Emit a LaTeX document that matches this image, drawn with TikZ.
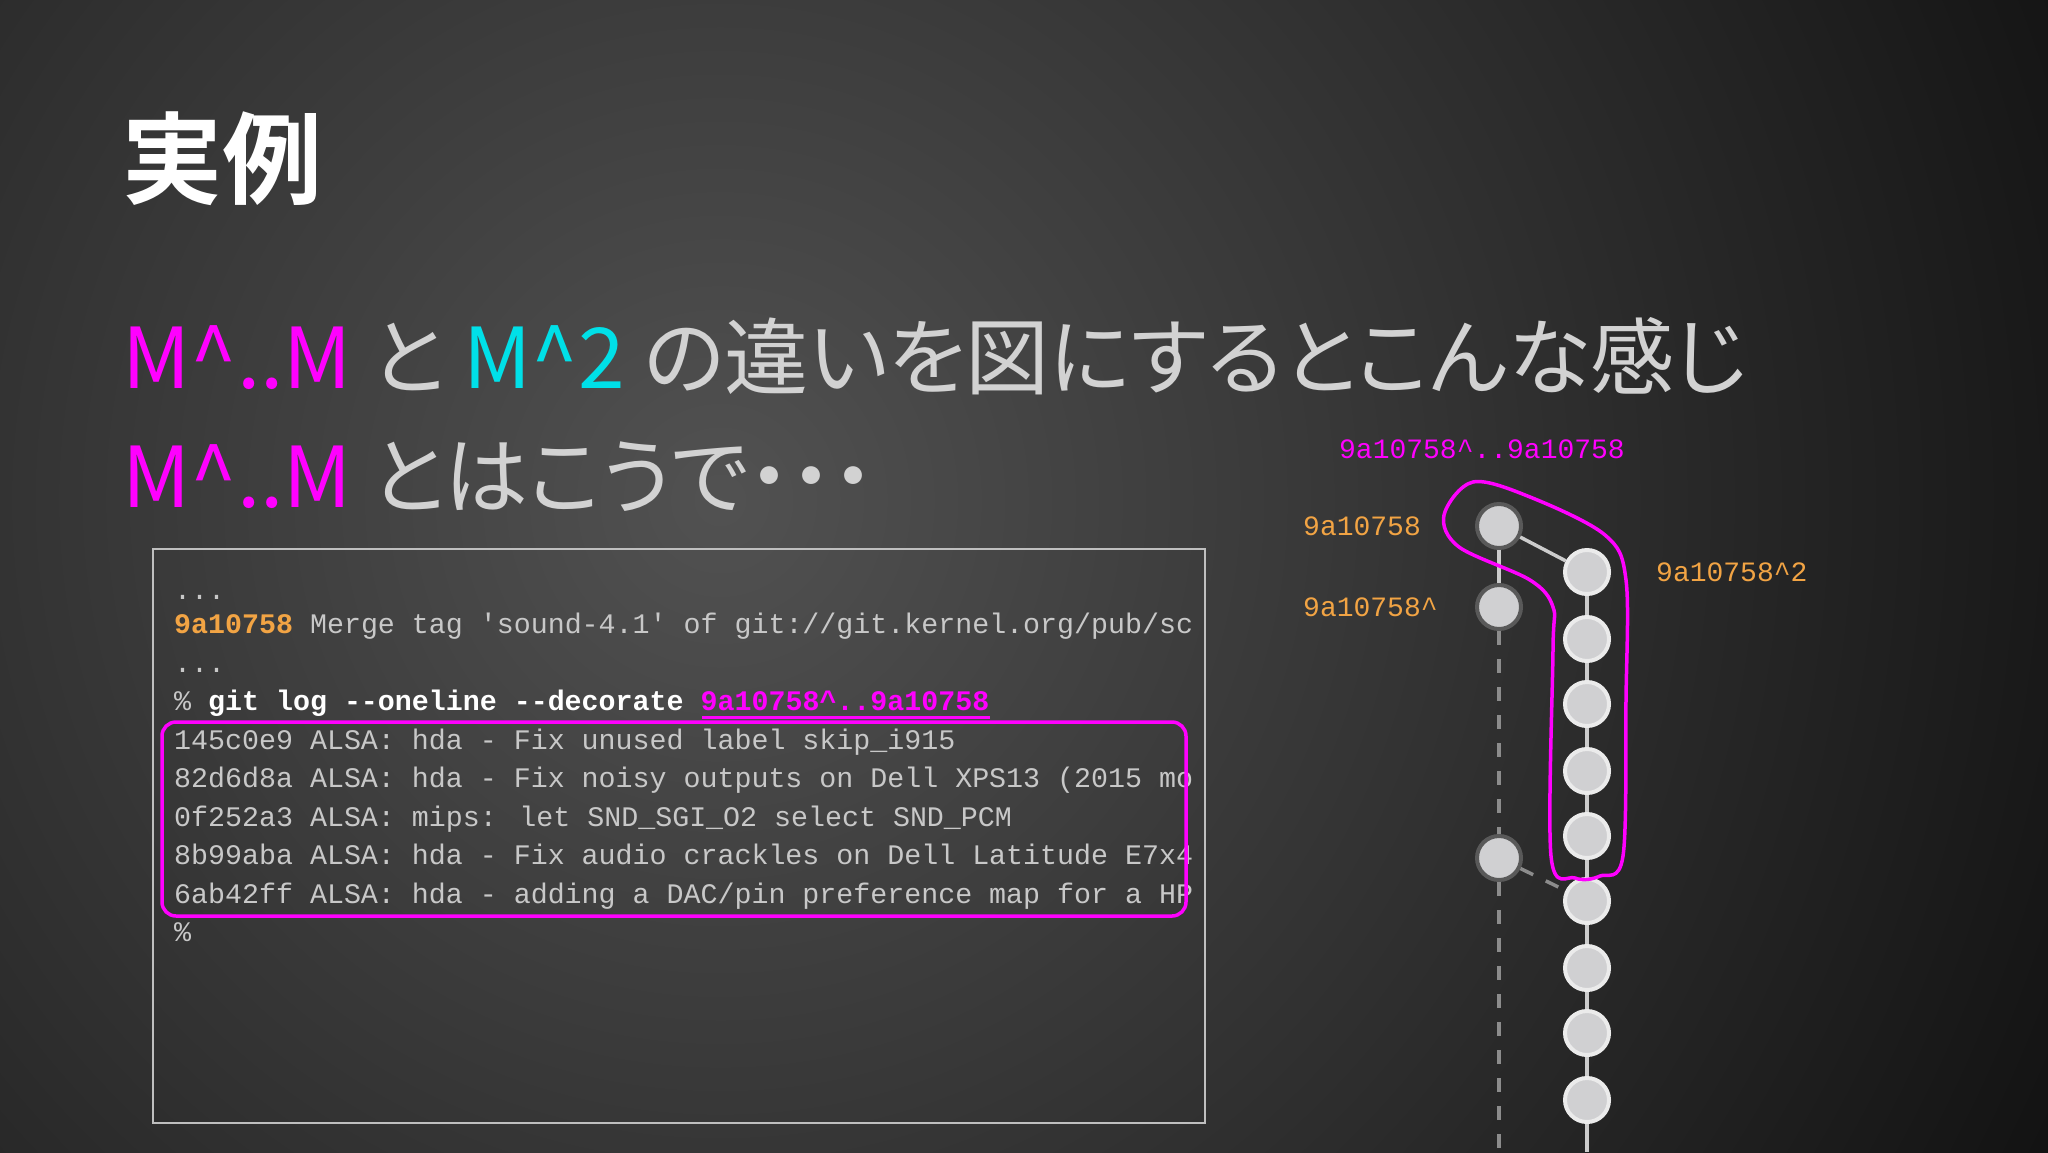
\documentclass[tikz,border=0pt]{standalone}
\usepackage{fontspec}
\newfontfamily\cjk[RawFeature=+palt]{Noto Sans CJK JP}
\newfontfamily\cjkb{Noto Sans CJK JP Bold}
\newfontfamily\mono{Liberation Mono}
\definecolor{mag}{HTML}{FF00FF}
\definecolor{cyn}{HTML}{00E0E8}
\definecolor{txt}{HTML}{D2D2D2}
\definecolor{code}{HTML}{C8C8C8}
\definecolor{org}{HTML}{F2A444}
\definecolor{nfill}{HTML}{D0D0D2}
\tikzset{
  codeline/.style={anchor=base west, inner sep=0pt, text=code, font=\mono\fontsize{28.3}{30}\selectfont},
  lbl/.style={inner sep=0pt, font=\mono\fontsize{28}{30}\selectfont},
  lnode/.style={circle, minimum size=44pt, inner sep=0pt, fill=nfill, draw=black!65, line width=4pt},
  rnode/.style={circle, minimum size=44pt, inner sep=0pt, fill=nfill, draw=white!92!black, line width=4pt},
  edge/.style={draw=black!20, line width=3.5pt},
  dedge/.style={draw=black!45, line width=3.5pt, dash pattern=on 14pt off 14pt},
}
\begin{document}
\begin{tikzpicture}[x=1pt,y=-1pt]
\useasboundingbox (0,0) rectangle (2048,1152);
\begin{scope}
\clip (0,0) rectangle (2048,1152);
\fill[black!90] (0,0) rectangle (2048,1152);
\shade[inner color=black!68, outer color=black!93] (720,500) circle (1500);
\end{scope}
% title
\node[anchor=base west, inner sep=0pt, text=white, font=\cjkb\fontsize{100}{110}\selectfont] (title) at (122,196) {実例};
\node[anchor=base west, inner sep=0pt, text=txt, font=\cjk\fontsize{84}{100}\selectfont] (l1) at (122,388) {\textcolor{mag}{M\textasciicircum..M} と \textcolor{cyn}{M\textasciicircum2} の違いを図にするとこんな感じ};
\node[anchor=base west, inner sep=0pt, text=txt, font=\cjk\fontsize{84}{100}\selectfont] (l2) at (122,507) {\textcolor{mag}{M\textasciicircum..M} とはこうで・・・};
% terminal
\draw[black!25, line width=2pt] (153,549) rectangle (1205,1123);
\begin{scope}
\clip (153,549) rectangle (1203,1123);
\node[codeline] (c1) at (174,599) {...};
\node[codeline] (c2) at (174,633) {\textcolor{org}{\bfseries 9a10758} Merge tag 'sound-4.1' of git://git.kernel.org/pub/sc};
\node[codeline] (c3) at (174,672) {...};
\node[codeline] (c4) at (174,710) {\% \textcolor{white}{\bfseries git log -{}-oneline -{}-decorate} \textcolor{mag}{\bfseries 9a10758\textasciicircum..9a10758}};
\node[codeline] (c5) at (174,749) {145c0e9 ALSA: hda - Fix unused label skip\_i915};
\node[codeline] (c6) at (174,787) {82d6d8a ALSA: hda - Fix noisy outputs on Dell XPS13 (2015 mo};
\node[codeline] (c7) at (174,826) {0f252a3 ALSA: mips: let SND\_SGI\_O2 select SND\_PCM};
\node[codeline] (c8) at (174,864) {8b99aba ALSA: hda - Fix audio crackles on Dell Latitude E7x4};
\node[codeline] (c9) at (174,903) {6ab42ff ALSA: hda - adding a DAC/pin preference map for a HP};
\node[codeline] (c10) at (174,941) {\%};
\end{scope}
\draw[mag, line width=3pt] (702,717) -- (990,717);
\draw[mag, line width=3.5pt, rounded corners=14pt] (162,722) rectangle (1186,916);
% graph
\node[lnode] (a1) at (1499,526) {};
\node[lnode] (a2) at (1499,607) {};
\node[lnode] (a3) at (1499,858) {};
\coordinate (aend) at (1499,1152);
\foreach \i/\y in {1/572,2/639,3/704,4/771,5/836,6/901,7/968,8/1033,9/1100}
  \node[rnode] (b\i) at (1587,\y) {};
\coordinate (bend) at (1587,1152);
\path[edge] (a1) -- (a2);
\path[edge] (a1) -- (b1);
\foreach \i/\j in {1/2,2/3,3/4,4/5,5/6,6/7,7/8,8/9} \path[edge] (b\i) -- (b\j);
\path[edge] (b9) -- (bend);
\path[dedge] (a2) -- (a3);
\path[dedge] (a3) -- (aend);
\path[dedge] (a3) -- (b6);
% lasso
\draw[mag, line width=3.5pt] plot[smooth cycle, tension=0.55] coordinates {(1473,482) (1530,497) (1605,535) (1626,580) (1626,700) (1623,856) (1600,876) (1575,878) (1551,856) (1553,650) (1553,607) (1530,580) (1459,547) (1444,515)};
% labels
\node[lbl, text=mag] (rng) at (1482,449) {9a10758\textasciicircum..9a10758};
\node[lbl, text=org, anchor=west] (la1) at (1303,526) {9a10758};
\node[lbl, text=org, anchor=west] (la2) at (1303,607) {9a10758\textasciicircum};
\node[lbl, text=org, anchor=west] (lb1) at (1656,572) {9a10758\textasciicircum2};
\end{tikzpicture}
\end{document}
